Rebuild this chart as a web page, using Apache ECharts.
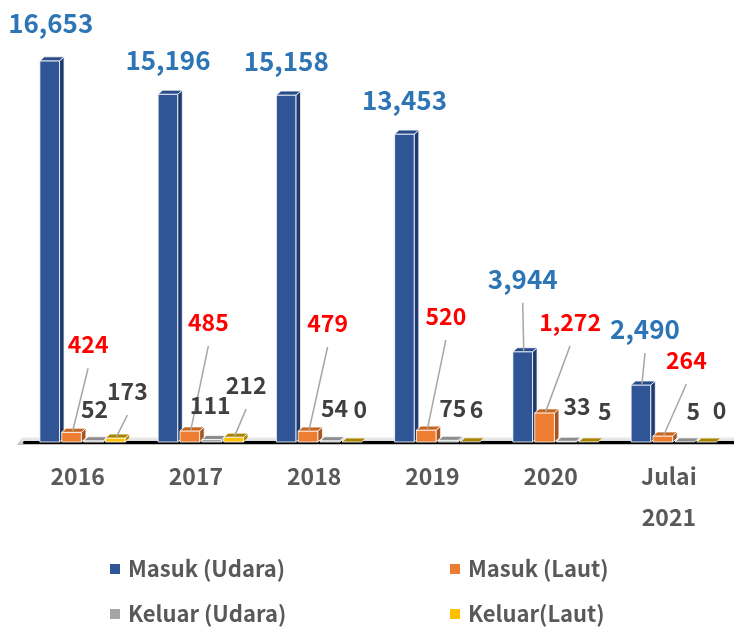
<!DOCTYPE html>
<html>
<head>
<meta charset="utf-8">
<script src="https://cdn.jsdelivr.net/npm/echarts@6/dist/echarts.min.js"></script>
<style>html,body{margin:0;padding:0;background:#fff;}#c{width:734px;height:627px;}</style>
</head>
<body>
<div id="c"></div>
<script>
// ---- data ----
const categories = ['2016', '2017', '2018', '2019', '2020', 'Julai\n2021'];
const seriesNames = ['Masuk (Udara)', 'Masuk (Laut)', 'Keluar (Udara)', 'Keluar(Laut)'];
const masukUdara = [16653, 15196, 15158, 13453, 3944, 2490];
const masukLaut = [424, 485, 479, 520, 1272, 264];
const keluarUdara = [52, 111, 54, 75, 33, 5];
const keluarLaut = [173, 212, 0, 6, 5, 0];

// ---- label placement (layout only) ----
const labelOffsets = [
  [[1,-38],[0,-34],[0,-34],[0,-34],[0,-73],[4,-56]],
  [[16.5,-88],[18.5,-109],[19.5,-108],[19.5,-114],[25.5,-91],[23.5,-76]],
  [[1,-32],[-1.5,-34],[4.5,-32],[4.5,-32],[10.5,-35],[8.5,-31]],
  [[12,-47],[12.5,-52],[8.5,-33],[6.5,-33],[16.5,-31],[13,-32]]
];
const leaders = [
  [0,0,0,0,1,1],
  [1,1,1,1,1,1],
  [0,0,0,0,0,0],
  [1,1,0,0,0,0]
];
const FF = '"Noto Sans CJK JP", "Noto Sans", sans-serif';
const styles = [
  {front:'#2F5597', side:'#1F3A6E', top:'#284C8A', label:'#2E75B6', font:'bold 26px ' + FF},
  {front:'#ED7D31', side:'#A85520', top:'#C8651F', label:'#FF0000', font:'bold 23px ' + FF},
  {front:'#A5A5A5', side:'#7A7A7A', top:'#8C8C8C', label:'#404040', font:'bold 23px ' + FF},
  {front:'#FFC000', side:'#B38600', top:'#A88400', label:'#404040', font:'bold 23px ' + FF}
];
const allData = [masukUdara, masukLaut, keluarUdara, keluarLaut];

function makeRender(sIdx) {
  return function (params, api) {
    const cat = api.value(0), val = api.value(1);
    const base = api.coord([cat, 0]);
    const topP = api.coord([cat, val]);
    const band = api.size([1, 0])[0];
    const slot = band * 0.185;
    const w = slot * 0.9;
    const left = base[0] - 2 * slot + sIdx * slot;
    const dx = 4.5, dy = 4;
    const y0 = base[1], y1 = topP[1];
    const st = styles[sIdx];
    const children = [];
    if (y0 - y1 > 0.3) {
      children.push({type:'rect', shape:{x:left, y:y1, width:w, height:y0 - y1},
        style:{fill:st.front, stroke:'#fff', lineWidth:0.8}});
      children.push({type:'polygon', shape:{points:[[left+w,y1],[left+w+dx,y1-dy],[left+w+dx,y0-dy],[left+w,y0]]},
        style:{fill:st.side, stroke:'#fff', lineWidth:0.8}});
    }
    children.push({type:'polygon', shape:{points:[[left,y1],[left+dx,y1-dy],[left+w+dx,y1-dy],[left+w,y1]]},
      style:{fill:st.top, stroke:'#fff', lineWidth:0.8}});
    const ax = left + w / 2, ay = y1;
    const off = labelOffsets[sIdx][params.dataIndex];
    const lx = ax + off[0], ly = ay + off[1];
    if (leaders[sIdx][params.dataIndex]) {
      children.push({type:'line', shape:{x1:lx, y1:ly + 24, x2:ax + 1, y2:ay - 1},
        style:{stroke:'#A6A6A6', lineWidth:1.5}});
    }
    children.push({type:'text', style:{text: val.toLocaleString('en-US'), x:lx, y:ly,
      align:'center', verticalAlign:'middle', font: st.font, fill: st.label}});
    return {type:'group', children};
  };
}

const chart = echarts.init(document.getElementById('c'));
const series = allData.map((arr, i) => ({
  name: seriesNames[i],
  type: 'custom',
  renderItem: makeRender(i),
  itemStyle: {color: styles[i].front},
  data: arr.map((v, j) => [j, v]),
  encode: {x: 0, y: 1},
  z: 3
}));

const legendFont = {fontSize: 22, fontWeight: 'bold', color: '#595959', lineHeight: 24,
  fontFamily: FF, padding:[0,0,0,3]};
const legendPos = [[110,557],[450,557],[110,602],[450,602]];
const legends = seriesNames.map((n, i) => ({
  data: [n], left: legendPos[i][0], top: legendPos[i][1], icon: 'rect', padding: 0,
  itemWidth: 10, itemHeight: 10, itemGap: 0, textStyle: legendFont, selectedMode: false
}));

chart.setOption({
  animation: false,
  backgroundColor: '#ffffff',
  grid: {left: 24.5, top: 30, width: 714, height: 412},
  xAxis: {
    type: 'category', data: categories, offset: 5,
    axisLine: {lineStyle: {color: '#000', width: 3}},
    axisTick: {show: false},
    axisLabel: {fontSize: 23, fontWeight: 'bold', color: '#595959', lineHeight: 41, margin: 9,
      padding: [0, 12, 0, 0], fontFamily: FF}
  },
  yAxis: {type: 'value', min: 0, max: 18000, show: false, splitLine: {show: false}},
  legend: legends,
  graphic: [{
    type: 'polygon', z: -1,
    shape: {points: [[17, 445], [22, 437], [734, 437], [734, 445]]},
    style: {fill: new echarts.graphic.LinearGradient(0, 0, 0, 1, [
      {offset: 0, color: '#F4F4F4'}, {offset: 0.6, color: '#D6D6D6'}, {offset: 1, color: '#BDBDBD'}])}
  }],
  series: series
});
</script>
</body>
</html>
